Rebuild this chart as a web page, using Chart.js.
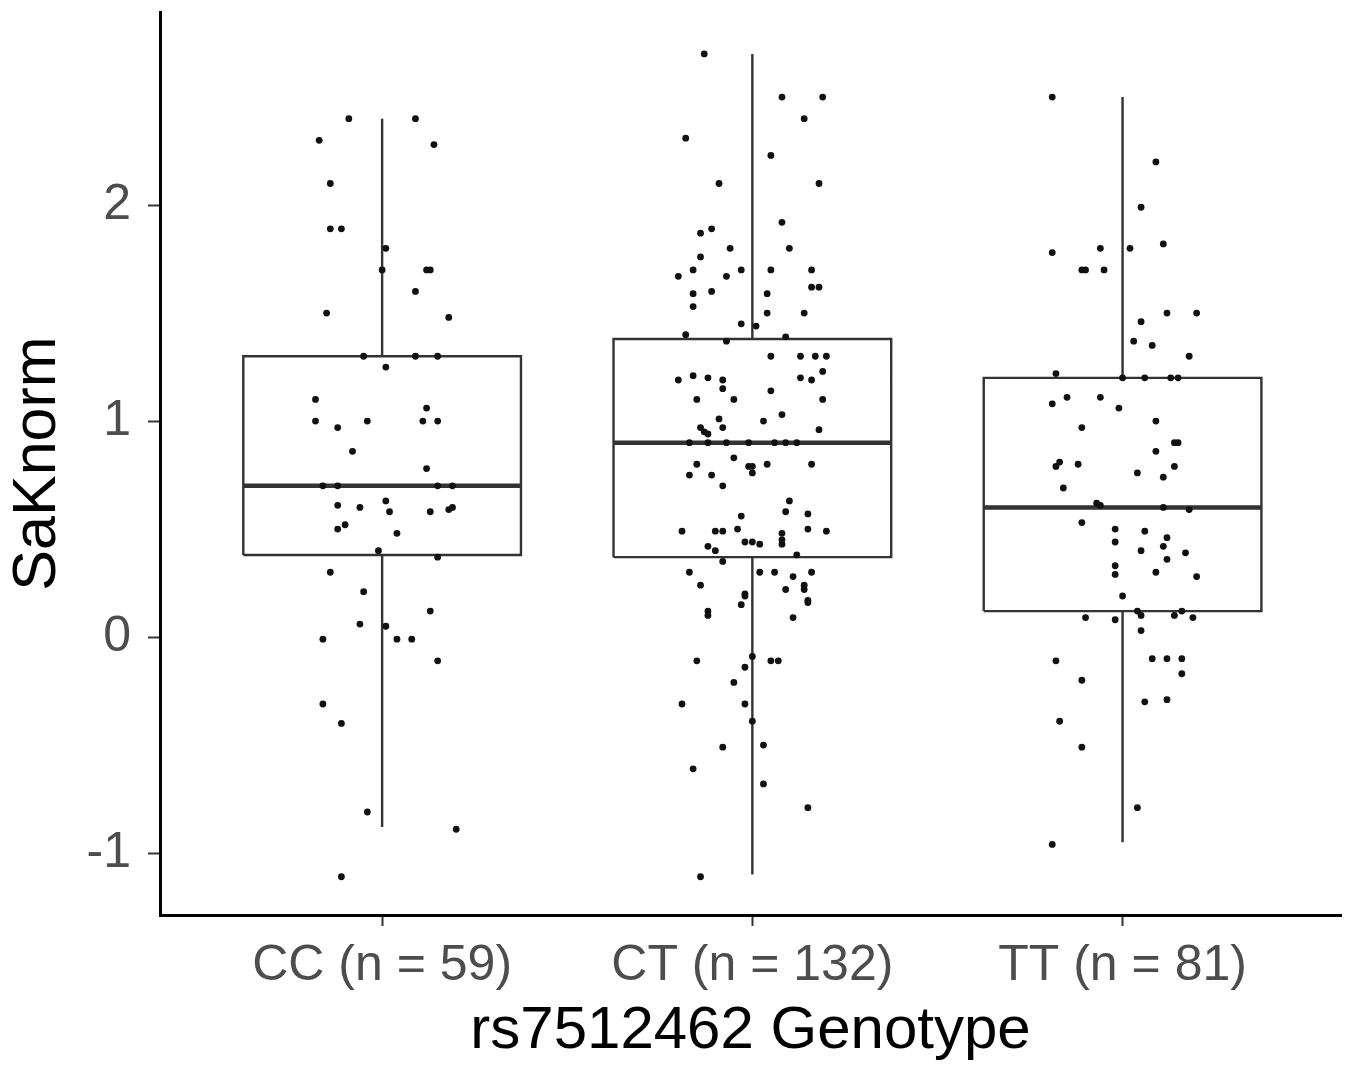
<!DOCTYPE html>
<html>
<head>
<meta charset="utf-8">
<script src="https://cdn.jsdelivr.net/npm/chart.js@4.4.1/dist/chart.umd.min.js"></script>
<style>
	html, body { margin: 0; padding: 0; background: #ffffff; }
	#wrap { width: 1355px; height: 1068px; }
</style>
</head>
<body>
<div id="wrap"><canvas id="genotypeChart" width="1355" height="1068"></canvas></div>
<script>
// categories and box stats
const categories = ["CC (n = 59)", "CT (n = 132)", "TT (n = 81)"];
const q1s = [0.38, 0.37, 0.12];
const medians = [0.70, 0.90, 0.60];
const q3s = [1.30, 1.38, 1.20];
const whiskerLow = [-0.88, -1.10, -0.95];
const whiskerHigh = [2.40, 2.70, 2.50];
const yTicks = [-1, 0, 1, 2];

// jittered points (value, horizontal jitter in category units)
const ccValues = [2.40, 2.40, 2.30, 2.28, 2.10, 1.89, 1.89, 1.80, 1.70, 1.70, 1.70, 1.60, 1.50, 1.48, 1.30, 1.30, 1.30, 1.25, 1.10, 1.06,
	1.00, 0.97, 1.00, 1.00, 1.00, 0.86, 0.78, 0.70, 0.70, 0.70, 0.70, 0.61, 0.60, 0.63, 0.58, 0.58, 0.59, 0.60, 0.52, 0.50,
	0.48, 0.40, 0.37, 0.30, 0.21, 0.12, 0.06, 0.05, -0.01, -0.01, -0.01, -0.11, -0.31, -0.40, -0.81, -0.89, -1.11];
const ccJitter = [-0.09, 0.09, -0.17, 0.14, -0.14, -0.14, -0.11, 0.01, 0.00, 0.12, 0.13, 0.09, -0.15, 0.18, -0.05, 0.09, 0.15, 0.01, -0.18, 0.12,
	-0.18, -0.12, -0.04, 0.11, 0.15, -0.08, 0.12, -0.16, -0.12, 0.15, 0.19, -0.12, -0.06, 0.01, 0.02, 0.13, 0.18, 0.19, -0.10, -0.12,
	0.04, -0.01, 0.15, -0.14, -0.05, 0.13, -0.06, 0.01, -0.16, 0.04, 0.08, 0.15, -0.16, -0.11, -0.04, 0.20, -0.11];

const ctValues = [2.70, 2.50, 2.50, 2.40, 2.31, 2.23, 2.10, 2.10, 1.92, 1.89, 1.87, 1.80, 1.80, 1.76, 1.70, 1.70, 1.70, 1.70, 1.67, 1.67,
	1.59, 1.60, 1.59, 1.62, 1.62, 1.53, 1.50, 1.50, 1.45, 1.44, 1.40, 1.39, 1.37, 1.30, 1.30, 1.30, 1.30, 1.19, 1.21, 1.20,
	1.19, 1.20, 1.19, 1.23, 1.15, 1.14, 1.10, 1.10, 1.10, 1.01, 1.03, 1.00, 0.97, 0.97, 0.95, 0.94, 0.96, 0.90, 0.90, 0.90,
	0.90, 0.90, 0.90, 0.90, 0.83, 0.80, 0.79, 0.79, 0.76, 0.80, 0.80, 0.75, 0.75, 0.70, 0.63, 0.58, 0.56, 0.57, 0.49, 0.49,
	0.49, 0.50, 0.48, 0.45, 0.43, 0.50, 0.49, 0.44, 0.44, 0.43, 0.42, 0.40, 0.38, 0.35, 0.30, 0.30, 0.30, 0.28, 0.30, 0.24,
	0.22, 0.24, 0.22, 0.20, 0.19, 0.15, 0.17, 0.16, 0.12, 0.10, 0.09, -0.11, -0.09, -0.11, -0.11, -0.14, -0.21, -0.31, -0.31, -0.39,
	-0.51, -0.50, -0.61, -0.68, -0.79, -1.11];
const ctJitter = [-0.13, 0.08, 0.19, 0.14, -0.18, 0.05, -0.09, 0.18, 0.08, -0.11, -0.14, 0.10, -0.06, -0.14, -0.16, -0.03, 0.05, 0.16, -0.20, -0.07,
	-0.16, -0.11, 0.04, 0.16, 0.18, -0.16, 0.04, 0.14, -0.03, 0.01, -0.18, 0.09, -0.07, 0.05, 0.13, 0.17, 0.20, -0.20, -0.16, -0.12,
	-0.08, 0.13, 0.16, 0.19, -0.08, 0.05, -0.15, -0.05, 0.19, -0.09, 0.08, 0.03, -0.08, -0.14, -0.13, -0.12, 0.18, -0.17, -0.12, -0.07,
	-0.01, 0.06, 0.09, 0.12, -0.05, -0.15, -0.01, 0.00, 0.00, 0.04, 0.16, -0.17, -0.11, -0.08, 0.10, 0.09, -0.03, 0.15, -0.19, -0.10,
	-0.08, -0.04, 0.08, 0.08, 0.08, 0.15, 0.20, -0.02, 0.00, 0.02, -0.12, -0.10, 0.12, -0.08, -0.17, 0.02, 0.06, 0.11, 0.16, -0.14,
	0.09, 0.14, 0.14, -0.02, -0.02, -0.03, 0.15, 0.15, -0.12, -0.12, 0.11, -0.15, 0.00, 0.05, 0.07, -0.02, -0.05, -0.19, -0.02, 0.00,
	-0.08, 0.03, -0.16, 0.03, 0.15, -0.14];

const ttValues = [2.50, 2.20, 1.99, 1.82, 1.80, 1.80, 1.78, 1.70, 1.70, 1.70, 1.50, 1.50, 1.46, 1.37, 1.35, 1.30, 1.22, 1.20, 1.20, 1.20,
	1.20, 1.11, 1.11, 1.08, 1.06, 0.97, 1.00, 0.90, 0.90, 0.86, 0.81, 0.79, 0.80, 0.79, 0.76, 0.74, 0.69, 0.62, 0.61, 0.60,
	0.59, 0.53, 0.50, 0.49, 0.44, 0.46, 0.40, 0.42, 0.39, 0.36, 0.33, 0.29, 0.30, 0.28, 0.19, 0.09, 0.08, 0.12, 0.10, 0.10,
	0.12, 0.09, 0.03, -0.11, -0.10, -0.10, -0.10, -0.17, -0.20, -0.30, -0.29, -0.39, -0.51, -0.79, -0.96];
const ttJitter = [-0.19, 0.09, 0.05, 0.11, 0.02, -0.06, -0.19, -0.11, -0.10, -0.05, 0.12, 0.20, 0.05, 0.03, 0.08, 0.18, -0.18, 0.00, 0.06, 0.13,
	0.15, -0.15, -0.06, -0.19, -0.01, -0.11, 0.09, 0.14, 0.15, 0.09, -0.17, -0.18, -0.12, 0.14, 0.04, 0.11, -0.16, -0.07, -0.06, 0.11,
	0.18, -0.11, -0.02, 0.06, -0.02, 0.12, 0.05, 0.11, 0.17, 0.12, -0.02, -0.02, 0.09, 0.20, 0.00, -0.10, -0.02, 0.04, 0.05, 0.14,
	0.16, 0.19, 0.05, -0.18, 0.08, 0.12, 0.16, 0.16, -0.11, 0.06, 0.12, -0.17, -0.11, 0.04, -0.19];

const boxHalfWidth = 0.375;
const lineColor = "#333333";
const fontFamily = "'Liberation Sans', Arial, Helvetica, sans-serif";

// build segments, separated by gaps
function boxOutlines() {
	let pts = [];
	for (let i = 0; i < categories.length; i++) {
		let l = i - boxHalfWidth, r = i + boxHalfWidth;
		pts.push({ x: l, y: q1s[i] }, { x: r, y: q1s[i] }, { x: r, y: q3s[i] }, { x: l, y: q3s[i] }, { x: l, y: q1s[i] });
		pts.push({ x: null, y: null });
	}
	return pts;
}
function whiskers() {
	let pts = [];
	for (let i = 0; i < categories.length; i++) {
		pts.push({ x: i, y: q3s[i] }, { x: i, y: whiskerHigh[i] }, { x: null, y: null });
		pts.push({ x: i, y: q1s[i] }, { x: i, y: whiskerLow[i] }, { x: null, y: null });
	}
	return pts;
}
function medianLines() {
	let pts = [];
	for (let i = 0; i < categories.length; i++) {
		pts.push({ x: i - boxHalfWidth, y: medians[i] }, { x: i + boxHalfWidth, y: medians[i] }, { x: null, y: null });
	}
	return pts;
}
function jitterPoints() {
	let groups = [[ccValues, ccJitter], [ctValues, ctJitter], [ttValues, ttJitter]];
	let pts = [];
	groups.forEach((g, i) => {
		for (let k = 0; k < g[0].length; k++) {
			pts.push({ x: i + g[1][k], y: g[0][k] });
		}
	});
	return pts;
}

const segmentStyle = {
	type: "line",
	pointRadius: 0,
	tension: 0,
	spanGaps: false,
	fill: false,
	borderColor: lineColor,
	order: 1,
};

const ctx = document.getElementById("genotypeChart");
const genotypeChart = new Chart(ctx, {
	type: "scatter",
	data: {
		datasets: [
			{
				label: "points",
				data: jitterPoints(),
				backgroundColor: "#111111",
				borderWidth: 0,
				pointRadius: 3.4,
				order: 0,
			},
			Object.assign({ label: "box", data: boxOutlines(), borderWidth: 2.4, borderJoinStyle: "miter" }, segmentStyle),
			Object.assign({ label: "whisker", data: whiskers(), borderWidth: 2.4 }, segmentStyle),
			Object.assign({ label: "median", data: medianLines(), borderWidth: 4.5 }, segmentStyle),
		],
	},
	options: {
		responsive: false,
		animation: false,
		events: [],
		layout: { padding: { top: 12, right: 14, left: 0, bottom: 0 } },
		plugins: {
			legend: { display: false },
			tooltip: { enabled: false },
		},
		scales: {
			x: {
				type: "linear",
				min: -0.6,
				max: 2.59,
				afterBuildTicks: (scale) => {
					scale.ticks = categories.map((c, i) => ({ value: i }));
				},
				afterFit: (scale) => {
					scale.height = 153;
					scale.paddingLeft = 0;
					scale.paddingRight = 0;
				},
				grid: {
					display: true,
					drawOnChartArea: false,
					tickLength: 11,
					tickWidth: 2,
					tickColor: lineColor,
				},
				border: { display: true, color: "#000000", width: 3 },
				ticks: {
					autoSkip: false,
					maxRotation: 0,
					padding: 10,
					color: "#4d4d4d",
					font: { family: fontFamily, size: 50 },
					callback: (v) => categories[v],
				},
				title: {
					display: true,
					text: "rs7512462 Genotype",
					color: "#000000",
					font: { family: fontFamily, size: 60 },
					padding: { top: 0, bottom: 1 },
				},
			},
			y: {
				type: "linear",
				min: -1.287,
				max: 2.894,
				afterBuildTicks: (scale) => {
					scale.ticks = yTicks.map((v) => ({ value: v }));
				},
				afterFit: (scale) => {
					scale.width = 160;
					scale.paddingTop = 0;
					scale.paddingBottom = 0;
				},
				grid: {
					display: true,
					drawOnChartArea: false,
					tickLength: 12,
					tickWidth: 2,
					tickColor: lineColor,
				},
				border: { display: true, color: "#000000", width: 3 },
				ticks: {
					padding: 17,
					color: "#4d4d4d",
					font: { family: fontFamily, size: 50 },
				},
				title: {
					display: true,
					text: "SaKnorm",
					color: "#000000",
					font: { family: fontFamily, size: 61 },
					padding: { top: 2, bottom: 0 },
				},
			},
		},
	},
});
</script>
</body>
</html>
